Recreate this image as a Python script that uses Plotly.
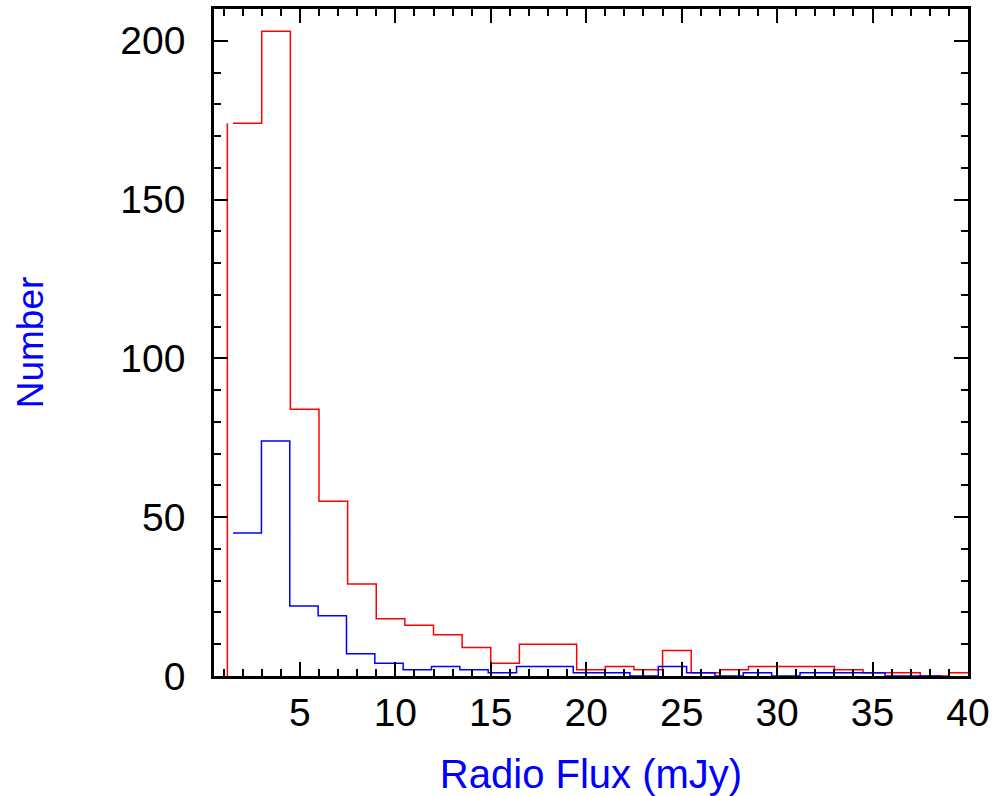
import plotly.graph_objects as go

# ---- data ----
red_start = 1.5          # first bin edge (mJy)
red_width = 1.5          # bin width (mJy)
red_counts = [174, 203, 84, 55, 29, 18, 16, 13, 9, 4, 10, 10, 2, 3, 2, 8,
              1, 2, 3, 3, 3, 2, 1, 1, 0, 1]
red_edge_x = 1.2         # stray vertical edge drawn left of the first red bin

blue_start = 1.5
blue_width = 1.485
blue_counts = [45, 74, 22, 19, 7, 4, 2, 3, 2, 1, 3, 3, 1, 1, 0, 3,
               1, 0, 1, 0, 1, 1, 1, 0, 0]

x_ticks = [5, 10, 15, 20, 25, 30, 35, 40]
y_ticks = [0, 50, 100, 150, 200]


def step_xy(start, width, counts):
    xs = [start + i * width for i in range(len(counts) + 1)]
    ys = list(counts) + [counts[-1]]
    return xs, ys


rx, ry = step_xy(red_start, red_width, red_counts)
bx, by = step_xy(blue_start, blue_width, blue_counts)

fig = go.Figure()
fig.add_trace(go.Scatter(x=[red_edge_x, red_edge_x], y=[0, red_counts[0]],
                         mode="lines", line=dict(color="#ff0000", width=1.5),
                         showlegend=False, hoverinfo="skip"))
fig.add_trace(go.Scatter(x=rx, y=ry, mode="lines", line_shape="hv",
                         line=dict(color="#ff0000", width=1.5), showlegend=False))
fig.add_trace(go.Scatter(x=bx, y=by, mode="lines", line_shape="hv",
                         line=dict(color="#0000ff", width=1.5), showlegend=False))

font = "Arial, Liberation Sans, Helvetica, sans-serif"
axis_common = dict(
    showgrid=False, zeroline=False, showline=True, linecolor="black",
    linewidth=2.5, mirror="allticks", ticks="inside", tickcolor="black",
    tickwidth=2, ticklen=14,
    tickfont=dict(family=font, size=39, color="black"),
)

fig.update_xaxes(**axis_common, range=[0.5, 40], tickvals=x_ticks,
                 minor=dict(dtick=1, tick0=0, ticks="inside", ticklen=7,
                            tickwidth=2, tickcolor="black"),
                 title=dict(text="Radio Flux (mJy)",
                            font=dict(family=font, size=40, color="#0000ff"),
                            standoff=28))
fig.update_yaxes(**axis_common, range=[0, 210], tickvals=y_ticks,
                 minor=dict(dtick=10, tick0=0, ticks="inside", ticklen=7,
                            tickwidth=2, tickcolor="black"),
                 ticklabelstandoff=18,
                 title=dict(text="Number",
                            font=dict(family=font, size=37, color="#0000ff"),
                            standoff=66))

fig.update_layout(width=1002, height=796,
                  margin=dict(l=214, r=34, t=9, b=120, autoexpand=False),
                  plot_bgcolor="white", paper_bgcolor="white")

fig.write_html("out.html")
